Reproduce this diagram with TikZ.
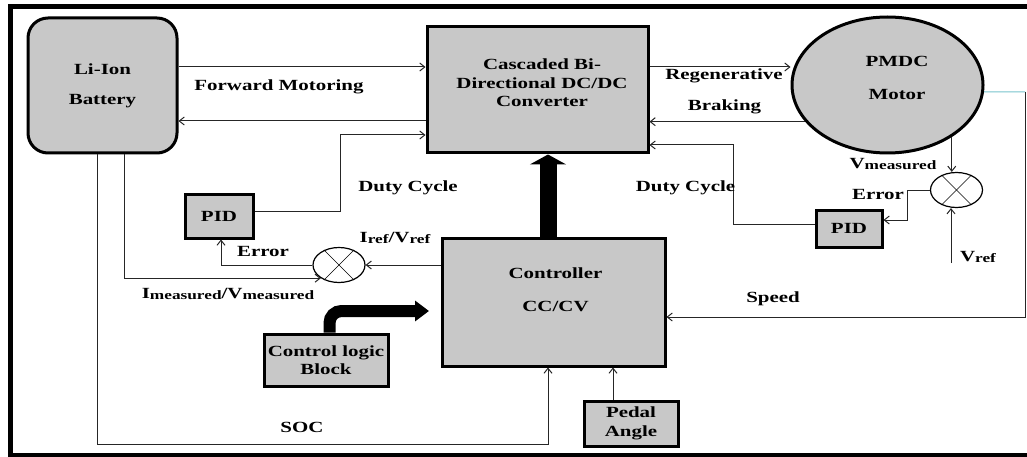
\documentclass[tikz,border=0pt]{standalone}
\usepackage{fontspec}
\setmainfont{Liberation Serif}[FakeStretch=1.35]
\usetikzlibrary{arrows.meta,shapes.geometric}

\definecolor{boxgray}{RGB}{200,200,200}
\definecolor{speedcyan}{RGB}{120,195,205}
\newcommand{\lowtext}[1]{\raisebox{-1.5pt}{\fontsize{12.8}{13}\selectfont #1}}

\begin{document}
\begin{tikzpicture}[x=1pt, y=-1pt, >={Straight Barb[length=5pt,width=8pt]},
    every node/.style={font=\fontsize{15.5}{18.5}\selectfont\bfseries},
    blk/.style={draw, line width=3pt, fill=boxgray, align=center, inner sep=0pt},
    summer/.style={draw, ellipse, line width=1.2pt, inner sep=0pt, minimum width=52pt, minimum height=35pt},
    sig/.style={line width=1pt, black!85},
    lbl/.style={inner sep=0pt, anchor=base},
    txt/.style={inner sep=0pt, align=center}]

    \useasboundingbox (0,0) rectangle (1027,457);
    % outer frame
    \draw[line width=5pt] (1027,7) -- (10,7) -- (10,455) -- (1027,455);

    % blocks
    \node[blk, rounded corners=20pt, minimum width=149pt, minimum height=135pt] (bat) at (102.5,85.5) {Li-Ion\\[11.5pt]Battery};
    \node[blk, minimum width=221pt, minimum height=126pt] (conv) at (537.5,90) {};
    \node[blk, ellipse, minimum width=191pt, minimum height=136pt] (mot) at (887.5,85) {};
    \node[blk, minimum width=223pt, minimum height=128pt] (ctrl) at (553.5,302) {};
    \node[blk, minimum width=68pt, minimum height=44pt] (pid1) at (219,216) {PID};
    \node[blk, minimum width=66pt, minimum height=37pt] (pid2) at (849,228.5) {PID};
    \node[blk, minimum width=124pt, minimum height=52pt] (logic) at (326,360) {Control logic\\Block};
    \node[blk, minimum width=94pt, minimum height=45pt] (pedal) at (631,423.5) {Pedal\\Angle};
    \node[txt] (convtxt) at (542,83) {Cascaded Bi-\\Directional DC/DC\\Converter};
    \node[txt] (mottxt) at (897,78) {PMDC\\[14.5pt]Motor};
    \node[txt] (ctrltxt) at (555.5,289.5) {Controller\\[14.5pt]CC/CV};

    % summing junctions
    \node[summer] (sum1) at (339,265) {};
    \node[summer] (sum2) at (956.5,190) {};
    \foreach \s in {sum1, sum2} {
      \draw[line width=0.6pt] (\s.135) -- (\s.-45);
      \draw[line width=0.6pt] (\s.45) -- (\s.-135);
    }

    % power flow
    \draw[sig,->] (bat.east |- 0,67) -- (conv.west |- 0,67);
    \draw[sig,->] (conv.west |- 0,121) -- (bat.east |- 0,121);
    \draw[sig,->] (conv.east |- 0,67) -- (mot.west |- 0,67);
    \draw[sig,->] (mot.204) -- (conv.east |- mot.204);

    % duty cycle loops
    \draw[sig,->] (pid1.east |- 0,211) -- (340,211) -- (340,135) -- (conv.west |- 0,135);
    \draw[sig,->] (pid2.west |- 0,224) -- (733,224) -- (733,145) -- (conv.east |- 0,145);

    % voltage loop
    \coordinate (vref) at (951,263);
    \draw[sig,->] (mot.-39) -- (mot.-39 |- sum2.north);
    \draw[sig,->] (vref) -- (vref |- sum2.south);
    \draw[sig,->] (sum2.west) -| (907,220) -- (pid2.east |- 0,220);

    % speed feedback
    \coordinate (spd) at (1025,92);
    \draw[line width=1pt, speedcyan] (mot.-4) -- (spd);
    \draw[sig,->] (spd) |- (ctrl.east |- 0,317);

    % current loop
    \draw[sig,->] ([xshift=21.5pt]bat.south) |- (sum1.216);
    \draw[sig,->] (sum1.west) -| ([xshift=2pt]pid1.south);
    \draw[sig,->] (ctrl.west |- sum1.east) -- (sum1.east);
    \draw[sig,->] ([xshift=-5.5pt]bat.south) -- (97,444) -| ([xshift=-5.5pt]ctrl.south);
    \draw[sig,->] ([xshift=-18pt]pedal.north) -- ([xshift=-18pt]pedal.north |- ctrl.south);

    % thick arrows
    \draw[line width=17pt, -{Triangle[length=10pt,width=36pt]}] ([xshift=-5.5pt]ctrl.north) -- ([xshift=10.5pt]conv.south);
    \coordinate (cltip) at (429,311);
    \draw[line width=12pt, rounded corners=12pt, -{Triangle[length=14pt,width=20pt]}] ([xshift=3.5pt]logic.north) |- (cltip);

    % labels
    \node[lbl] (lfwd) at (279,91) {Forward Motoring};
    \node[lbl] (lregen) at (724,80) {Regenerative};
    \node[lbl] (lbrake) at (724.5,111) {Braking};
    \node[lbl] (lduty1) at (408,191) {Duty Cycle};
    \node[lbl] (lduty2) at (685.5,192) {Duty Cycle};
    \node[lbl] (lerr1) at (263,256) {Error};
    \node[lbl] (lerr2) at (878,199) {Error};
    \node[lbl] (lref1) at (395,242) {I\lowtext{ref}/V\lowtext{ref}};
    \node[lbl] (lmeas1) at (228,298) {I\lowtext{measured}/V\lowtext{measured}};
    \node[lbl] (lsoc) at (302,432) {SOC};
    \node[lbl] (lspeed) at (773,302) {Speed};
    \node[lbl] (lvmeas) at (893,168) {V\lowtext{measured}};
    \node[lbl] (lvref) at (978,261) {V\lowtext{ref}};
  \end{tikzpicture}
\end{document}
